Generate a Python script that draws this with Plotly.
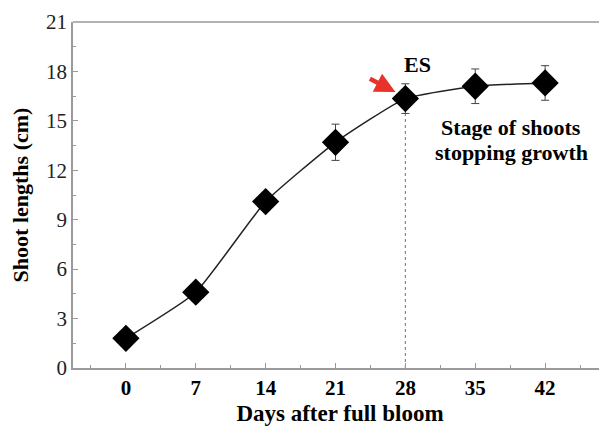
import plotly.graph_objects as go

days = [0, 7, 14, 21, 28, 35, 42]
lengths = [1.8, 4.6, 10.1, 13.7, 16.35, 17.1, 17.3]
errors = [0.2, 0.25, 0.5, 1.1, 0.9, 1.05, 1.05]
x_ticks = [0, 7, 14, 21, 28, 35, 42]
y_ticks = [0, 3, 6, 9, 12, 15, 18, 21]

font = "Times New Roman, Liberation Serif, serif"
gray = "#9a9a9a"

fig = go.Figure()
fig.add_trace(go.Scatter(
    x=[28, 28], y=[0, lengths[4]], mode="lines",
    line=dict(color="#888888", width=1.2, dash="dot"), hoverinfo="skip", showlegend=False))
fig.add_trace(go.Scatter(
    x=days, y=lengths, mode="lines+markers",
    line=dict(color="#222222", width=1.5, shape="spline", smoothing=0.45),
    marker=dict(symbol="diamond", size=21, color="black"),
    error_y=dict(type="data", array=errors, color="#444444", thickness=1, width=4),
    showlegend=False))

fig.add_annotation(x=29.2, y=18.4, text="<b>ES</b>", showarrow=False,
                   font=dict(family=font, size=22, color="black"))
fig.add_annotation(x=27.0, y=16.75, ax=-27, ay=-14, text="", showarrow=True,
                   arrowhead=2, arrowsize=0.9, arrowwidth=4.5, arrowcolor="#e8322b",
                   standoff=0)
fig.add_annotation(x=38.6, y=14.57, text="<b>Stage of shoots</b>", showarrow=False,
                   font=dict(family=font, size=22, color="black"))
fig.add_annotation(x=38.6, y=13.1, text="<b>stopping growth</b>", showarrow=False,
                   font=dict(family=font, size=22, color="black"))

fig.update_layout(
    width=599, height=421,
    margin=dict(l=65, r=0, t=14, b=61),
    plot_bgcolor="white", paper_bgcolor="white",
    font=dict(family=font),
    xaxis=dict(range=[-5.3, 48.2], tickvals=x_ticks, ticktext=[f"<b>{t}</b>" for t in x_ticks],
               ticks="inside", ticklen=5, tickcolor=gray, showgrid=False, zeroline=False,
               showline=True, linecolor=gray, linewidth=1.5, mirror=False,
               minor=dict(dtick=3.5, tick0=0, ticks="inside", ticklen=3, tickcolor=gray),
               tickfont=dict(family=font, size=21, color="black"),
               title=dict(text="<b>Days after full bloom</b>", standoff=6,
                          font=dict(family=font, size=23, color="black"))),
    yaxis=dict(range=[0, 21], tickvals=y_ticks, ticks="inside", ticklen=5, tickcolor=gray,
               showgrid=False, zeroline=False, showline=True, linecolor=gray, linewidth=1.5,
               minor=dict(dtick=1.5, tick0=0, ticks="inside", ticklen=3, tickcolor=gray),
               tickfont=dict(family=font, size=21, color="#222222"),
               title=dict(text="<b>Shoot lengths (cm)</b>", standoff=12,
                          font=dict(family=font, size=22, color="black"))),
)
fig.add_shape(type="line", xref="paper", yref="paper", x0=0, x1=1, y0=1, y1=1,
              line=dict(color=gray, width=1.5))
fig.write_html("out.html")
